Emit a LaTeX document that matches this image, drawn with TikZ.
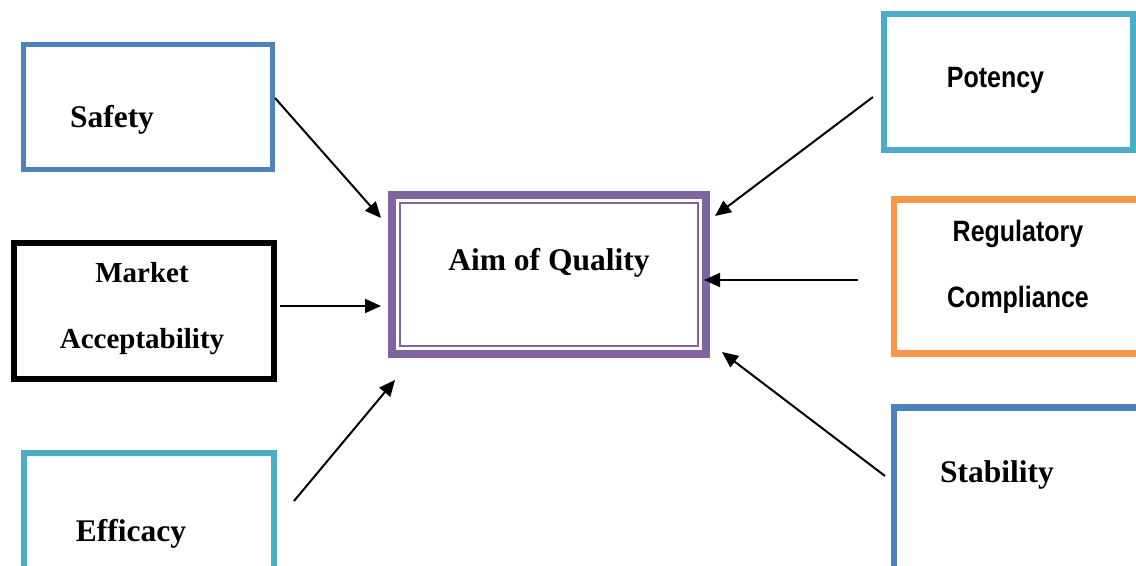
\documentclass[tikz,border=0pt]{standalone}
\usepackage{fontspec}
\setmainfont{Liberation Serif}
\newfontfamily\narrowsans[FakeStretch=0.85]{Liberation Sans}
\usetikzlibrary{arrows.meta}

\definecolor{aimblue}{RGB}{79,129,189}
\definecolor{aimcyan}{RGB}{75,172,198}
\definecolor{aimorange}{RGB}{247,150,70}
\definecolor{aimpurple}{RGB}{128,100,162}

\begin{document}
\begin{tikzpicture}[x=0.5pt,y=-0.5pt,
      box/.style={draw, inner sep=0pt},
      serif/.style={font=\fontsize{15.75}{33}\selectfont\bfseries, anchor=base, align=center},
      sans/.style={font=\narrowsans\fontsize{14.7}{33}\selectfont\bfseries, anchor=base, align=center},
      link/.style={line width=1pt, -{Triangle[length=8pt,width=7pt]}}
    ]
    \useasboundingbox (0,0) rectangle (1136,566);
    \clip (0,0) rectangle (1136,566);
    % boxes
    \foreach \bname/\bx/\by/\bw/\bh/\bcol/\blw in {safety/148/107/124.5/62.5/aimblue/2.5,
        market/144/311/130/68/black/3,
        efficacy/149/516.5/125/63.5/aimcyan/3,
        aim/549/274.5/157/79.5/aimpurple/4,
        potency/1008.5/82/124.5/68/aimcyan/3.2,
        regulatory/1022/276.5/127.75/77/aimorange/3.2,
        stability/1022/498.75/127.75/91.25/aimblue/3.2}{%
      \node[box, draw=\bcol, line width=\blw pt, minimum width=\bw pt, minimum height=\bh pt] (\bname) at (\bx,\by) {};
    }
    \draw[aimpurple, line width=1.35pt] ([shift={(12,12)}]aim.north west) rectangle ([shift={(-12,-12)}]aim.south east);
    % labels (base = last line)
    \node[serif] (safety-t) at (112,128) {Safety};
    \node[serif, font=\fontsize{14.5}{33}\selectfont\bfseries] (market-t) at (142,349) {Market\\Acceptability};
    \node[serif] (efficacy-t) at (131,542) {Efficacy};
    \node[serif] (aim-t) at (549,271) {Aim of Quality};
    \node[sans] (potency-t) at (995.5,88) {Potency};
    \node[sans] (regulatory-t) at (1018,308) {Regulatory\\Compliance};
    \node[serif] (stability-t) at (997,483) {Stability};
    % arrow ends
    \coordinate (safety-o) at (275,98);
    \coordinate (aim-nw) at (381,218);
    \coordinate (market-o) at (280,306);
    \coordinate (aim-w) at (381,306);
    \coordinate (efficacy-o) at (294,501);
    \coordinate (aim-sw) at (395,380);
    \coordinate (potency-o) at (873,97);
    \coordinate (aim-ne) at (715,216);
    \coordinate (regulatory-o) at (858,280);
    \coordinate (aim-e) at (704,280);
    \coordinate (stability-o) at (885,476);
    \coordinate (aim-se) at (722,352);
    \draw[link] (safety-o) -- (aim-nw);
    \draw[link] (market-o) -- (aim-w);
    \draw[link] (efficacy-o) -- (aim-sw);
    \draw[link] (potency-o) -- (aim-ne);
    \draw[link] (regulatory-o) -- (aim-e);
    \draw[link] (stability-o) -- (aim-se);
  \end{tikzpicture}
\end{document}
